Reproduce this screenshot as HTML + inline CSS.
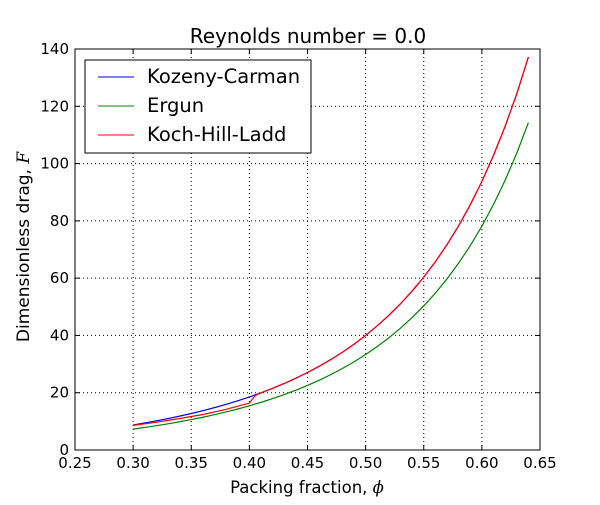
<!DOCTYPE html>
<html><head><meta charset="utf-8"><style>
body{margin:0;background:#fff}
svg{font-family:"DejaVu Sans","Liberation Sans",sans-serif}
</style></head><body>
<svg id="chart" width="600" height="500">
<rect width="600" height="500" fill="#fff"/>
<g id="grid"></g><g id="series"></g><g id="axes"></g>
<text x="308" y="43" font-size="20" text-anchor="middle">Reynolds number = 0.0</text>
<text x="307" y="493" font-size="16.5" text-anchor="middle">Packing fraction, <tspan font-style="italic" font-family="DejaVu Serif">ϕ</tspan></text>
<text transform="translate(29,247) rotate(-90)" font-size="17" text-anchor="middle">Dimensionless drag, <tspan font-style="italic" font-family="DejaVu Serif">F</tspan></text>
<g>
<rect x="85" y="60" width="226" height="93" fill="#fff" stroke="#000"/>
<g><line x1="98" y1="77" x2="134" y2="77" stroke="#0000ff"/><text x="147" y="83" font-size="19.5">Kozeny-Carman</text></g>
<g><line x1="98" y1="106" x2="134" y2="106" stroke="#008000"/><text x="147" y="112" font-size="19.5">Ergun</text></g>
<g><line x1="98" y1="135" x2="134" y2="135" stroke="#ff0000"/><text x="147" y="141" font-size="19.5">Koch-Hill-Ladd</text></g>
</g>
</svg>
<script>
const xsKC=[0.30,0.31,0.32,0.33,0.34,0.35,0.36,0.37,0.38,0.39,0.40,0.41,0.42,0.43,0.44,0.45,0.46,0.47,0.48,0.49,0.50,0.51,0.52,0.53,0.54,0.55,0.56,0.57,0.58,0.59,0.60,0.61,0.62,0.63,0.64];
const kozenyCarman=[8.75,9.44,10.18,10.97,11.83,12.75,13.73,14.80,15.94,17.18,18.52,19.96,21.53,23.22,25.06,27.05,29.21,31.57,34.14,36.93,40,43.36,47.02,51.05,55.49,60.36,65.73,71.69,78.28,85.60,93.75,102.85,112.99,124.3,137.2];
const ergun=[7.29,7.87,8.48,9.14,9.86,10.63,11.44,12.33,13.28,14.32,15.43,16.63,17.94,19.35,20.88,22.54,24.34,26.31,28.45,30.78,33.33,36.13,39.18,42.54,46.24,50.30,54.78,59.74,65.23,71.33,78.13,85.71,94.16,103.6,114.3];
const xsKHL=[0.30,0.31,0.32,0.33,0.34,0.35,0.36,0.37,0.38,0.39,0.40,0.405,0.41,0.42,0.43,0.44,0.45,0.46,0.47,0.48,0.49,0.50,0.51,0.52,0.53,0.54,0.55,0.56,0.57,0.58,0.59,0.60,0.61,0.62,0.63,0.64];
const kochHillLadd=[8.6,9.15,9.7,10.35,11.0,11.7,12.4,13.3,14.2,15.3,16.4,19.0,19.96,21.53,23.22,25.06,27.05,29.21,31.57,34.14,36.93,40,43.36,47.02,51.05,55.49,60.36,65.73,71.69,78.28,85.60,93.75,102.85,112.99,124.3,137.2];
const xTicks=[0.25,0.30,0.35,0.40,0.45,0.50,0.55,0.60,0.65];
const yTicks=[0,20,40,60,80,100,120,140];
const L=75,R=540,T=49,B=450;
const sx=v=>L+(v-0.25)/0.4*(R-L);
const sy=v=>B-v/140*(B-T);
const NS="http://www.w3.org/2000/svg";
function mk(tag,attrs,parent){const e=document.createElementNS(NS,tag);for(const k in attrs)e.setAttribute(k,attrs[k]);document.getElementById(parent).appendChild(e);return e;}
xTicks.forEach((t,i)=>{
  const x=sx(t);
  if(i>0&&i<xTicks.length-1){const g=mk('line',{x1:x,y1:T,x2:x,y2:B,stroke:'#000','stroke-dasharray':'1,3'},'grid');
  
  }
  mk('line',{x1:x,y1:B,x2:x,y2:B-5,stroke:'#000'},'axes');
  mk('line',{x1:x,y1:T,x2:x,y2:T+5,stroke:'#000'},'axes');
  const tx=mk('text',{x:x,y:B+18,'font-size':15,'text-anchor':'middle'},'axes');
  tx.textContent=t.toFixed(2);
  
  
});
yTicks.forEach((t,i)=>{
  const y=sy(t);
  if(i>0&&i<yTicks.length-1){const g=mk('line',{x1:L,y1:y,x2:R,y2:y,stroke:'#000','stroke-dasharray':'1,3'},'grid');
  
  }
  mk('line',{x1:L,y1:y,x2:L+5,y2:y,stroke:'#000'},'axes');
  mk('line',{x1:R,y1:y,x2:R-5,y2:y,stroke:'#000'},'axes');
  const tx=mk('text',{x:L-6,y:y+5,'font-size':15,'text-anchor':'end'},'axes');
  tx.textContent=t;
  
  
});
const fr=mk('rect',{x:L,y:T,width:R-L,height:B-T,fill:'none',stroke:'#000'},'axes');


function line(xs,ys,color,name){
  const p=mk('polyline',{points:xs.map((x,i)=>sx(x)+','+sy(ys[i])).join(' '),fill:'none',stroke:color,'stroke-width':1.2,'stroke-linejoin':'round'},'series');
  
  
}
line(xsKC,kozenyCarman,'#0000ff','kozeny-carman-line');
line(xsKC,ergun,'#008000','ergun-line');
line(xsKHL,kochHillLadd,'#ff0000','koch-hill-ladd-line');
</script>
</body></html>
